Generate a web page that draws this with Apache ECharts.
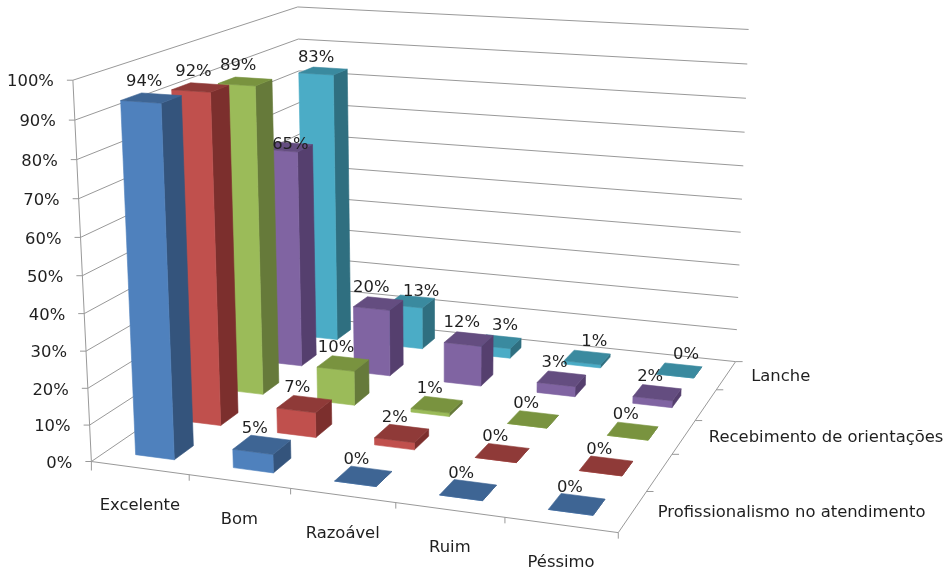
<!DOCTYPE html>
<html><head><meta charset="utf-8">
<style>html,body{margin:0;padding:0;background:#fff}#c{width:951px;height:573px}</style>
<script src="https://cdn.jsdelivr.net/npm/echarts@6/dist/echarts.min.js"></script>
</head><body><div id="c"></div>
<script>
// ---- data ----
const categories = ['Excelente','Bom','Razoável','Ruim','Péssimo'];
const depthLabels = ['Profissionalismo no atendimento','','Recebimento de orientações','','Lanche'];
const valueTicks = [0,10,20,30,40,50,60,70,80,90,100];
const profissionalismo = [94,5,0,0,0];
const serie2 = [92,7,2,0,0];
const recebimento = [89,10,1,0,0];
const serie4 = [65,20,12,3,2];
const lanche = [83,13,3,1,0];
const seriesValues = [profissionalismo, serie2, recebimento, serie4, lanche];

// ---- styling ----
const faceColors = [
  {front:'#4f81bd', side:'#34547c', top:'#3e6594'},
  {front:'#c0504d', side:'#7c2f2d', top:'#8f3a38'},
  {front:'#9bbb59', side:'#667a3a', top:'#79933f'},
  {front:'#8064a2', side:'#553f6e', top:'#644d80'},
  {front:'#4bacc6', side:'#2f6f80', top:'#3a8a9f'}
];
const FONT = '16.4px "DejaVu Sans"';
const TEXT = '#1f1f1f', LINE = '#999999';
const BAR = 0.2; // half width/depth of a bar in category units
// labels the reference moved away from the default place: "depth,category" -> shift
const labelNudge = {'3,0':[10,14],'4,0':[0,3],'4,1':[3,6]};

// ---- camera calibrated on the frame of the 3D box: [cat, depth, value] -> pixel ----
const frameAnchors = [
  [0,0,0,92,460],[0,0,50,83,275],[0,0,100,73,80],
  [1,0,0,189,477],[2,0,0,290,490],[3,0,0,395,503],[4,0,0,504,518],[5,0,0,619,530],
  [5,1,0,647,491],[5,2,0,672,455],[5,3,0,695,421],[5,4,0,717,389],[5,5,0,735,362],
  [5,5,50,742,199],[5,5,100,749,30],[0,5,100,297,7],[0,5,0,304,316]
];
function solve(A,b){const n=b.length;for(let i=0;i<n;i++){let p=i;for(let r=i+1;r<n;r++)if(Math.abs(A[r][i])>Math.abs(A[p][i]))p=r;
  [A[i],A[p]]=[A[p],A[i]];[b[i],b[p]]=[b[p],b[i]];
  for(let r=i+1;r<n;r++){const f=A[r][i]/A[i][i];for(let c=i;c<n;c++)A[r][c]-=f*A[i][c];b[r]-=f*b[i];}}
  const x=new Array(n);for(let i=n-1;i>=0;i--){let s=b[i];for(let c=i+1;c<n;c++)s-=A[i][c]*x[c];x[i]=s/A[i][i];}return x;}
const cam=(function(){const N=new Array(11).fill(0).map(()=>new Array(11).fill(0)),R=new Array(11).fill(0);
  function add(row,t){for(let i=0;i<11;i++){R[i]+=row[i]*t;for(let j=0;j<11;j++)N[i][j]+=row[i]*row[j];}}
  frameAnchors.forEach(([u,v,w,x,y])=>{const a=u/5,b=v/5,c=w/100;
    add([a,b,c,1,0,0,0,0,-x*a,-x*b,-x*c],x);
    add([0,0,0,0,a,b,c,1,-y*a,-y*b,-y*c],y);});
  return solve(N,R);})();
function project(u,v,w){const a=u/5,b=v/5,c=w/100,m=cam,d=m[8]*a+m[9]*b+m[10]*c+1;
  return [(m[0]*a+m[1]*b+m[2]*c+m[3])/d,(m[4]*a+m[5]*b+m[6]*c+m[7])/d];}

function line(p,q){return {type:'line',silent:true,shape:{x1:p[0],y1:p[1],x2:q[0],y2:q[1]},style:{stroke:LINE,lineWidth:1}};}
function text(x,y,s,align){return {type:'text',x:x,y:y,z2:100,silent:true,style:{text:s,fill:TEXT,font:FONT,align:align||'center',verticalAlign:'middle'}};}

// the library's scales give the value height; it is then placed in the box
function toHeight(api,catIndex,value){const p=api.coord([catIndex,value]);
  return (api.getHeight()-p[1])/api.getHeight()*100;}

function renderFrame(params,api){
  const tick=api.value(1), kids=[];
  const w=toHeight(api,0,tick);
  const a=project(0,0,w), b=project(0,5,w), c=project(5,5,w);
  kids.push(line(a,b),line(b,c),line([a[0]-6,a[1]],a));
  kids.push(text(a[0]-19,a[1]+2,tick+'%','right'));
  if(params.dataIndex===0){
    kids.push(line(project(0,0,0),project(0,0,100)));
    kids.push(line(project(0,0,0),project(5,0,0)));
    kids.push(line(project(5,0,0),project(5,5,0)));
    for(let i=0;i<=5;i++){const p=project(i,0,0);kids.push(line(p,[p[0],p[1]+(i===0?9:6)]));}
    for(let i=1;i<=5;i++){const p=project(5,i,0);kids.push(line(p,[p[0]+7,p[1]]));}
    categories.forEach((s,i)=>{const p=project(i+.5,0,0);kids.push(text(p[0],p[1]+38,s));});
    depthLabels.forEach((s,i)=>{if(s){const p=project(5,i+.5,0);kids.push(text(p[0]+25,p[1]+1,s,'left'));}});
  }
  return {type:'group',children:kids};
}
function renderBars(depth,params,api){
  const col=faceColors[depth];
  const cat=api.value(0), val=api.value(1);
  const px=api.coord([cat,val]);
  const uc=px[0]/api.getWidth()*5, vc=depth+.5, h=toHeight(api,cat,val);
  const u0=uc-BAR,u1=uc+BAR,v0=vc-BAR,v1=vc+BAR;
  const poly=(pts,c)=>({type:'polygon',silent:true,shape:{points:pts},style:{fill:c,stroke:c,lineWidth:.6}});
  const front=[project(u0,v0,0),project(u1,v0,0),project(u1,v0,h),project(u0,v0,h)];
  const side=[project(u1,v0,0),project(u1,v1,0),project(u1,v1,h),project(u1,v0,h)];
  const top=[project(u0,v0,h),project(u1,v0,h),project(u1,v1,h),project(u0,v1,h)];
  const c=project(uc,vc,h);
  const nudge=labelNudge[depth+','+cat]||[0,0];
  const dx=(depth===4&&val<50)?7:-7;
  return {type:'group',children:[
    poly(side,col.side),poly(front,col.front),poly(top,col.top),
    text(c[0]+dx+nudge[0],c[1]-16+nudge[1],val+'%')
  ]};
}
const series=[{type:'custom',name:'frame',renderItem:renderFrame,silent:true,clip:false,
  data:valueTicks.map(t=>[0,t])}];
// back rows paint first so nearer rows cover them
for(let d=seriesValues.length-1;d>=0;d--){
  series.push({type:'custom',name:depthLabels[d]||('Série '+(d+1)),silent:true,clip:false,
    renderItem:(p,a)=>renderBars(d,p,a),encode:{x:0,y:1},
    data:seriesValues[d].map((v,k)=>[k,v])});
}
const chart=echarts.init(document.getElementById('c'),null,{renderer:'canvas'});
chart.setOption({
  animation:false,backgroundColor:'#fff',
  grid:{left:0,right:0,top:0,bottom:0},
  xAxis:{type:'category',data:categories,show:false},
  yAxis:{type:'value',min:0,max:100,show:false},
  series:series
});
</script></body></html>
